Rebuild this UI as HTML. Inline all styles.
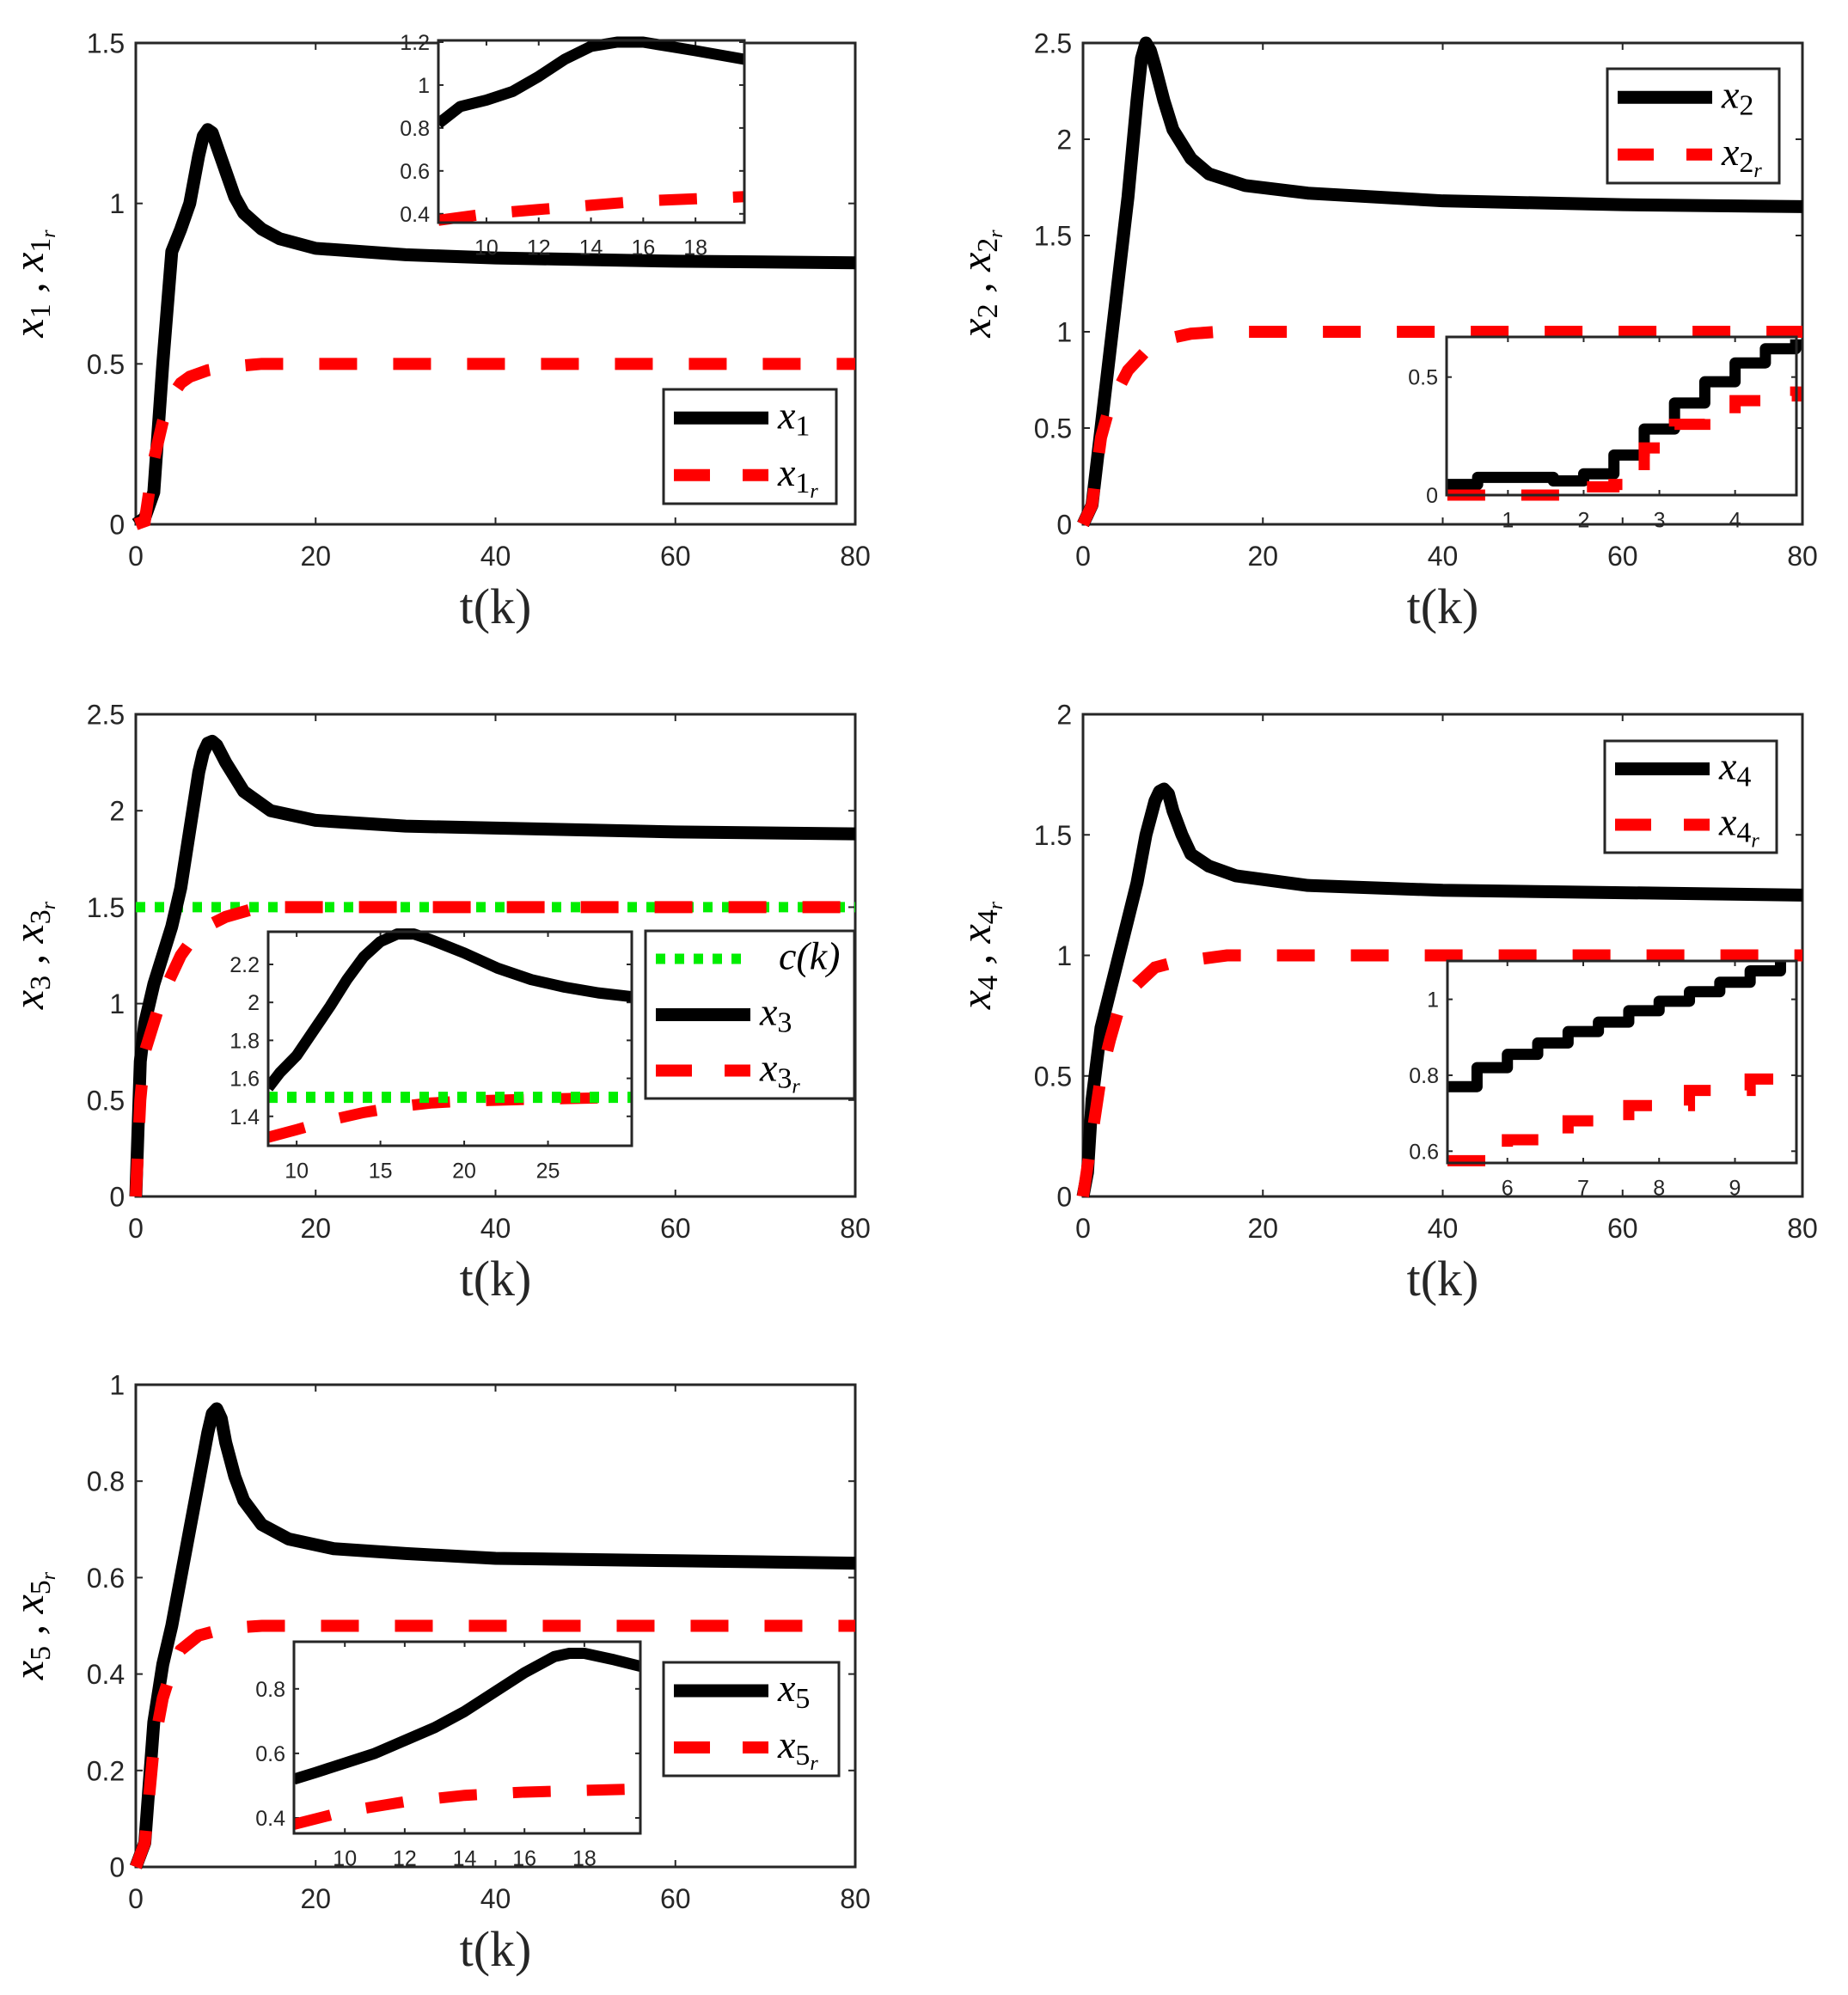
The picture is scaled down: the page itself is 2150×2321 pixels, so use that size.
<!DOCTYPE html>
<html><head><meta charset="utf-8">
<style>
html,body{margin:0;padding:0;background:#fff;}
svg{display:block;}
text{font-family:"Liberation Sans",sans-serif;fill:#262626;}
.m{font-family:"Liberation Serif",serif;font-style:italic;fill:#000;}
.r{font-family:"Liberation Serif",serif;fill:#262626;}
</style></head>
<body>
<svg id="fig" width="2150" height="2321" viewBox="0 0 2150 2321" xmlns="http://www.w3.org/2000/svg"></svg>
<script>
// ---------- data ----------
const x1T=[0,1,2,3,4,5,6,7,7.5,8,8.5,9,10,11,12,14,16,20,25,30,40,50,60,80];
const x1V=[0,0.02,0.1,0.5,0.85,0.92,1.0,1.15,1.21,1.23,1.22,1.18,1.1,1.02,0.97,0.92,0.89,0.86,0.85,0.84,0.83,0.825,0.82,0.815];
const x1rT=[0,1,2,3,4,5,6,8,10,14,80];
const x1rV=[0,0.01,0.2,0.32,0.4,0.44,0.46,0.48,0.49,0.5,0.5];
const i1T=[8.16,9,10,11,12,13,14,15,16,17,18,19.87];
const i1V=[0.82,0.9,0.93,0.97,1.04,1.12,1.18,1.2,1.2,1.18,1.16,1.12];
const i1rT=[8.16,10,12,14,16,18,19.87];
const i1rV=[0.37,0.4,0.42,0.44,0.46,0.47,0.48];

const x2T=[0,1,2,3,4,5,6,6.5,7,7.5,8,9,10,12,14,18,25,40,60,80];
const x2V=[0,0.1,0.5,0.9,1.3,1.7,2.2,2.42,2.5,2.46,2.38,2.2,2.05,1.9,1.82,1.76,1.72,1.68,1.66,1.65];
const x2rT=[0,1,2,3,5,7,9,12,15,80];
const x2rV=[0,0.1,0.45,0.62,0.8,0.9,0.96,0.99,1,1];
const i2T=[0.2,0.6,1.6,2.0,2.4,2.8,3.2,3.6,4.0,4.4,4.8];
const i2V=[0.045,0.075,0.06,0.09,0.17,0.28,0.39,0.48,0.56,0.62,0.66];
const i2rT=[0.2,2.0,2.4,2.8,3.2,3.6,4.0,4.4,4.8];
const i2rV=[0,0.035,0.045,0.2,0.3,0.33,0.4,0.42,0.46];

const x3T=[0,0.5,1,2,3,4,5,6,7,7.5,8,8.5,9,10,12,15,20,30,40,60,80];
const x3V=[0,0.7,0.9,1.1,1.25,1.4,1.6,1.9,2.2,2.3,2.35,2.36,2.34,2.25,2.1,2.0,1.95,1.92,1.91,1.89,1.88];
const x3rT=[0,0.5,1,2,3,5,7,10,13,16,80];
const x3rV=[0,0.5,0.75,0.9,1.05,1.25,1.38,1.45,1.49,1.5,1.5];
const ckT=[0,80];
const ckV=[1.5,1.5];
const i3T=[8.3,9,10,11,12,13,14,15,16,17,18,20,22,24,26,28,30];
const i3V=[1.55,1.63,1.72,1.85,1.98,2.12,2.24,2.32,2.36,2.36,2.33,2.26,2.18,2.12,2.08,2.05,2.03];
const i3rT=[8.3,10,12,14,16,18,20,24,30];
const i3rV=[1.29,1.33,1.38,1.42,1.45,1.47,1.48,1.49,1.5];
const i3cT=[8.3,30];
const i3cV=[1.5,1.5];

const x4T=[0,0.5,1,2,3,4,5,6,7,8,8.5,9,9.5,10,11,12,14,17,25,40,60,80];
const x4V=[0,0.1,0.4,0.7,0.85,1.0,1.15,1.3,1.5,1.64,1.68,1.69,1.67,1.6,1.5,1.42,1.37,1.33,1.29,1.27,1.26,1.25];
const x4rT=[0,1,2,3,4,6,8,10,14,16,80];
const x4rV=[0,0.25,0.5,0.65,0.78,0.88,0.95,0.97,0.99,1,1];
const i4T=[5.21,5.6,6.0,6.4,6.8,7.2,7.6,8.0,8.4,8.8,9.2,9.6];
const i4V=[0.77,0.82,0.855,0.885,0.915,0.94,0.97,0.995,1.02,1.045,1.075,1.1];
const i4rT=[5.21,6.0,6.8,7.6,8.4,9.2,9.6];
const i4rV=[0.575,0.63,0.68,0.72,0.76,0.79,0.81];

const x5T=[0,1,2,3,4,5,6,7,8,8.5,9,9.5,10,11,12,14,17,22,30,40,60,80];
const x5V=[0,0.05,0.3,0.42,0.5,0.6,0.7,0.8,0.9,0.94,0.95,0.93,0.88,0.81,0.76,0.71,0.68,0.66,0.65,0.64,0.635,0.63];
const x5rT=[0,1,2,3,4,5,7,10,14,80];
const x5rV=[0,0.05,0.25,0.35,0.41,0.45,0.48,0.495,0.5,0.5];
const i5T=[8.3,9,10,11,12,13,14,15,16,17,17.5,18,19,19.87];
const i5V=[0.52,0.54,0.57,0.6,0.64,0.68,0.73,0.79,0.85,0.9,0.91,0.91,0.89,0.87];
const i5rT=[8.3,10,12,14,16,19.87];
const i5rV=[0.38,0.42,0.45,0.47,0.48,0.49];

const xTicks=[0,20,40,60,80];
const y1Ticks=[0,0.5,1,1.5], y1Lab=["0","0.5","1","1.5"];
const y2Ticks=[0,0.5,1,1.5,2,2.5], y2Lab=["0","0.5","1","1.5","2","2.5"];
const y4Ticks=[0,0.5,1,1.5,2], y4Lab=["0","0.5","1","1.5","2"];
const y5Ticks=[0,0.2,0.4,0.6,0.8,1], y5Lab=["0","0.2","0.4","0.6","0.8","1"];

// ---------- drawing ----------
const NS="http://www.w3.org/2000/svg";
const svg=document.getElementById('fig');
function mk(tag,attrs,parent){const e=document.createElementNS(NS,tag);for(const k in attrs)e.setAttribute(k,attrs[k]);(parent||svg).appendChild(e);return e;}
function scale(d0,d1,p0,p1){return v=>p0+(v-d0)/(d1-d0)*(p1-p0);}
function lineD(T,V,sx,sy,step){let d='';for(let i=0;i<T.length;i++){const x=sx(T[i]),y=sy(V[i]);if(i===0)d+='M'+x+' '+y;else{if(step)d+=' L'+x+' '+sy(V[i-1]);d+=' L'+x+' '+y;}}return d;}
const BLACK={stroke:'#000','stroke-width':15,fill:'none','stroke-linejoin':'round'};
const RED={stroke:'#ff0000','stroke-width':14,fill:'none','stroke-dasharray':'44 42'};
const GREEN={stroke:'#00ee00','stroke-width':12,fill:'none','stroke-dasharray':'11 11'};

function axes(g,x0,x1,y0,y1,xt,xl,yt,yl,sx,sy,fs,tl,name){
  const fr=mk('rect',{x:x0,y:y0,width:x1-x0,height:y1-y0,fill:'#fff',stroke:'#262626','stroke-width':3},g);
  
  
  xt.forEach((v,i)=>{const x=sx(v);
    mk('line',{x1:x,x2:x,y1:y1,y2:y1-tl,stroke:'#262626','stroke-width':2},g);
    mk('line',{x1:x,x2:x,y1:y0,y2:y0+tl,stroke:'#262626','stroke-width':2},g);
    const t=mk('text',{x:x,y:y1+fs*1.5,'font-size':fs,'text-anchor':'middle'},g);t.textContent=xl[i];
    
    });
  yt.forEach((v,i)=>{const y=sy(v);
    mk('line',{x1:x0,x2:x0+tl,y1:y,y2:y,stroke:'#262626','stroke-width':2},g);
    mk('line',{x1:x1,x2:x1-tl,y1:y,y2:y,stroke:'#262626','stroke-width':2},g);
    const t=mk('text',{x:x0-fs*0.4,y:y+fs*0.36,'font-size':fs,'text-anchor':'end'},g);t.textContent=yl[i];
    
    });
}
function series(g,T,V,sx,sy,style,name,step,w){
  const st=Object.assign({},style);if(w)st['stroke-width']=w;
  st.d=lineD(T,V,sx,sy,step);
  const p=mk('path',st,g);
  
  
}
function legend(g,x,y,w,h,entries,name){
  const r=mk('rect',{x:x,y:y,width:w,height:h,fill:'#fff',stroke:'#262626','stroke-width':3},g);
  
  
  const n=entries.length,dy=h/n;
  entries.forEach((e,i)=>{const cy=y+dy*(i+0.5);
    const st=Object.assign({},e.style);st['stroke-dasharray']=e.style===RED?'42 38 22 0':(e.style===GREEN?'11 11':'none');
    mk('line',Object.assign(st,{x1:x+12,x2:x+122,y1:cy,y2:cy}),g);
    const t=mk('text',{x:x+133+(e.off||0),y:cy+12,'font-size':46,class:'m'},g);
    
    
    t.innerHTML=e.label;});
}
function ylabel(g,cx,cy,html){const t=mk('text',{x:0,y:0,'font-size':50,class:'m','text-anchor':'middle',transform:`translate(${cx},${cy}) rotate(-90)`},g);t.innerHTML=html;
  
  }
function xlabel(g,cx,y){const t=mk('text',{x:cx,y:y,'font-size':58,class:'r','text-anchor':'middle'},g);t.textContent='t(k)';
  
  }
const sub=(n,r)=>`x<tspan font-size="34" dy="8" font-style="normal">${n}</tspan>`+(r?`<tspan font-size="24" dy="6">r</tspan><tspan dy="-14"> </tspan>`:`<tspan dy="-8"> </tspan>`);

function panel(opt){
  const g=mk('g',{});
  const [x0,x1,y0,y1]=opt.box;
  const sx=scale(0,80,x0,x1),sy=scale(opt.ymin,opt.ymax,y1,y0);
  axes(g,x0,x1,y0,y1,xTicks,xTicks.map(String),opt.yt,opt.yl,sx,sy,32,8,opt.name);
  opt.lines.forEach(l=>series(g,l[0],l[1],sx,sy,l[2],l[3]));
  xlabel(g,(x0+x1)/2,y1+115);
  ylabel(g,x0-108,(y0+y1)/2,opt.ylab);
  if(opt.inset){const I=opt.inset;const [a0,a1,b0,b1]=I.box;
    const ig=mk('g',{},g);
    const isx=scale(I.xr[0],I.xr[1],a0,a1),isy=scale(I.yr[0],I.yr[1],b1,b0);
    axes(ig,a0,a1,b0,b1,I.xt,I.xt.map(String),I.yt,I.yl,isx,isy,25,6,opt.name+'-inset');
    const cp=mk('clipPath',{id:opt.name+'c'},ig);mk('rect',{x:a0,y:b0-8,width:a1-a0+6,height:b1-b0+16},cp);
    const lg=mk('g',{'clip-path':`url(#${opt.name}c)`},ig);
    I.lines.forEach(l=>series(lg,l[0],l[1],isx,isy,l[2],l[3],l[4],13));
    mk('rect',{x:a0,y:b0,width:a1-a0,height:b1-b0,fill:'none',stroke:'#262626','stroke-width':3},ig);
  }
  legend(g,opt.leg[0],opt.leg[1],opt.leg[2],opt.leg[3],opt.legE,opt.name+'-legend');
}
panel({name:'plot-x1',box:[158,995,50,610],ymin:0,ymax:1.5,yt:y1Ticks,yl:y1Lab,
  lines:[[x1T,x1V,BLACK,'x1-line'],[x1rT,x1rV,RED,'x1r-line']],
  ylab:sub(1,false)+' ,  '+sub(1,true),
  inset:{box:[510,866,47,259],xr:[8.16,19.87],yr:[0.359,1.208],xt:[10,12,14,16,18],yt:[0.4,0.6,0.8,1,1.2],yl:["0.4","0.6","0.8","1","1.2"],
    lines:[[i1T,i1V,BLACK,'x1-inset-line',false],[i1rT,i1rV,RED,'x1r-inset-line',false]]},
  leg:[772,453,201,133],legE:[{style:BLACK,label:sub(1,false)},{style:RED,label:sub(1,true)}]});
panel({name:'plot-x2',box:[1260,2097,50,610],ymin:0,ymax:2.5,yt:y2Ticks,yl:y2Lab,
  lines:[[x2T,x2V,BLACK,'x2-line'],[x2rT,x2rV,RED,'x2r-line']],
  ylab:sub(2,false)+' ,  '+sub(2,true),
  inset:{box:[1683,2090,392,576],xr:[0.19,4.81],yr:[0,0.67],xt:[1,2,3,4],yt:[0,0.5],yl:["0","0.5"],
    lines:[[i2T,i2V,BLACK,'x2-inset-line',true],[i2rT,i2rV,RED,'x2r-inset-line',true]]},
  leg:[1870,80,200,133],legE:[{style:BLACK,label:sub(2,false)},{style:RED,label:sub(2,true)}]});
panel({name:'plot-x3',box:[158,995,831,1392],ymin:0,ymax:2.5,yt:y2Ticks,yl:y2Lab,
  lines:[[ckT,ckV,GREEN,'c-line'],[x3T,x3V,BLACK,'x3-line'],[x3rT,x3rV,RED,'x3r-line']],
  ylab:sub(3,false)+' ,  '+sub(3,true),
  inset:{box:[312,735,1084,1333],xr:[8.3,30],yr:[1.245,2.372],xt:[10,15,20,25],yt:[1.4,1.6,1.8,2,2.2],yl:["1.4","1.6","1.8","2","2.2"],
    lines:[[i3T,i3V,BLACK,'x3-inset-line',false],[i3rT,i3rV,RED,'x3r-inset-line',false],[i3cT,i3cV,GREEN,'c-inset-line',false]]},
  leg:[751,1083,243,195],legE:[{style:GREEN,label:'c(k)',off:22},{style:BLACK,label:sub(3,false)},{style:RED,label:sub(3,true)}]});
panel({name:'plot-x4',box:[1260,2097,831,1392],ymin:0,ymax:2,yt:y4Ticks,yl:y4Lab,
  lines:[[x4T,x4V,BLACK,'x4-line'],[x4rT,x4rV,RED,'x4r-line']],
  ylab:sub(4,false)+' ,  '+sub(4,true),
  inset:{box:[1684,2090,1118,1353],xr:[5.21,9.81],yr:[0.569,1.101],xt:[6,7,8,9],yt:[0.6,0.8,1],yl:["0.6","0.8","1"],
    lines:[[i4T,i4V,BLACK,'x4-inset-line',true],[i4rT,i4rV,RED,'x4r-inset-line',true]]},
  leg:[1867,862,200,130],legE:[{style:BLACK,label:sub(4,false)},{style:RED,label:sub(4,true)}]});
panel({name:'plot-x5',box:[158,995,1611,2172],ymin:0,ymax:1,yt:y5Ticks,yl:y5Lab,
  lines:[[x5T,x5V,BLACK,'x5-line'],[x5rT,x5rV,RED,'x5r-line']],
  ylab:sub(5,false)+' ,  '+sub(5,true),
  inset:{box:[342,745,1910,2133],xr:[8.3,19.87],yr:[0.352,0.946],xt:[10,12,14,16,18],yt:[0.4,0.6,0.8],yl:["0.4","0.6","0.8"],
    lines:[[i5T,i5V,BLACK,'x5-inset-line',false],[i5rT,i5rV,RED,'x5r-inset-line',false]]},
  leg:[772,1934,204,132],legE:[{style:BLACK,label:sub(5,false)},{style:RED,label:sub(5,true)}]});
</script>
</body></html>
